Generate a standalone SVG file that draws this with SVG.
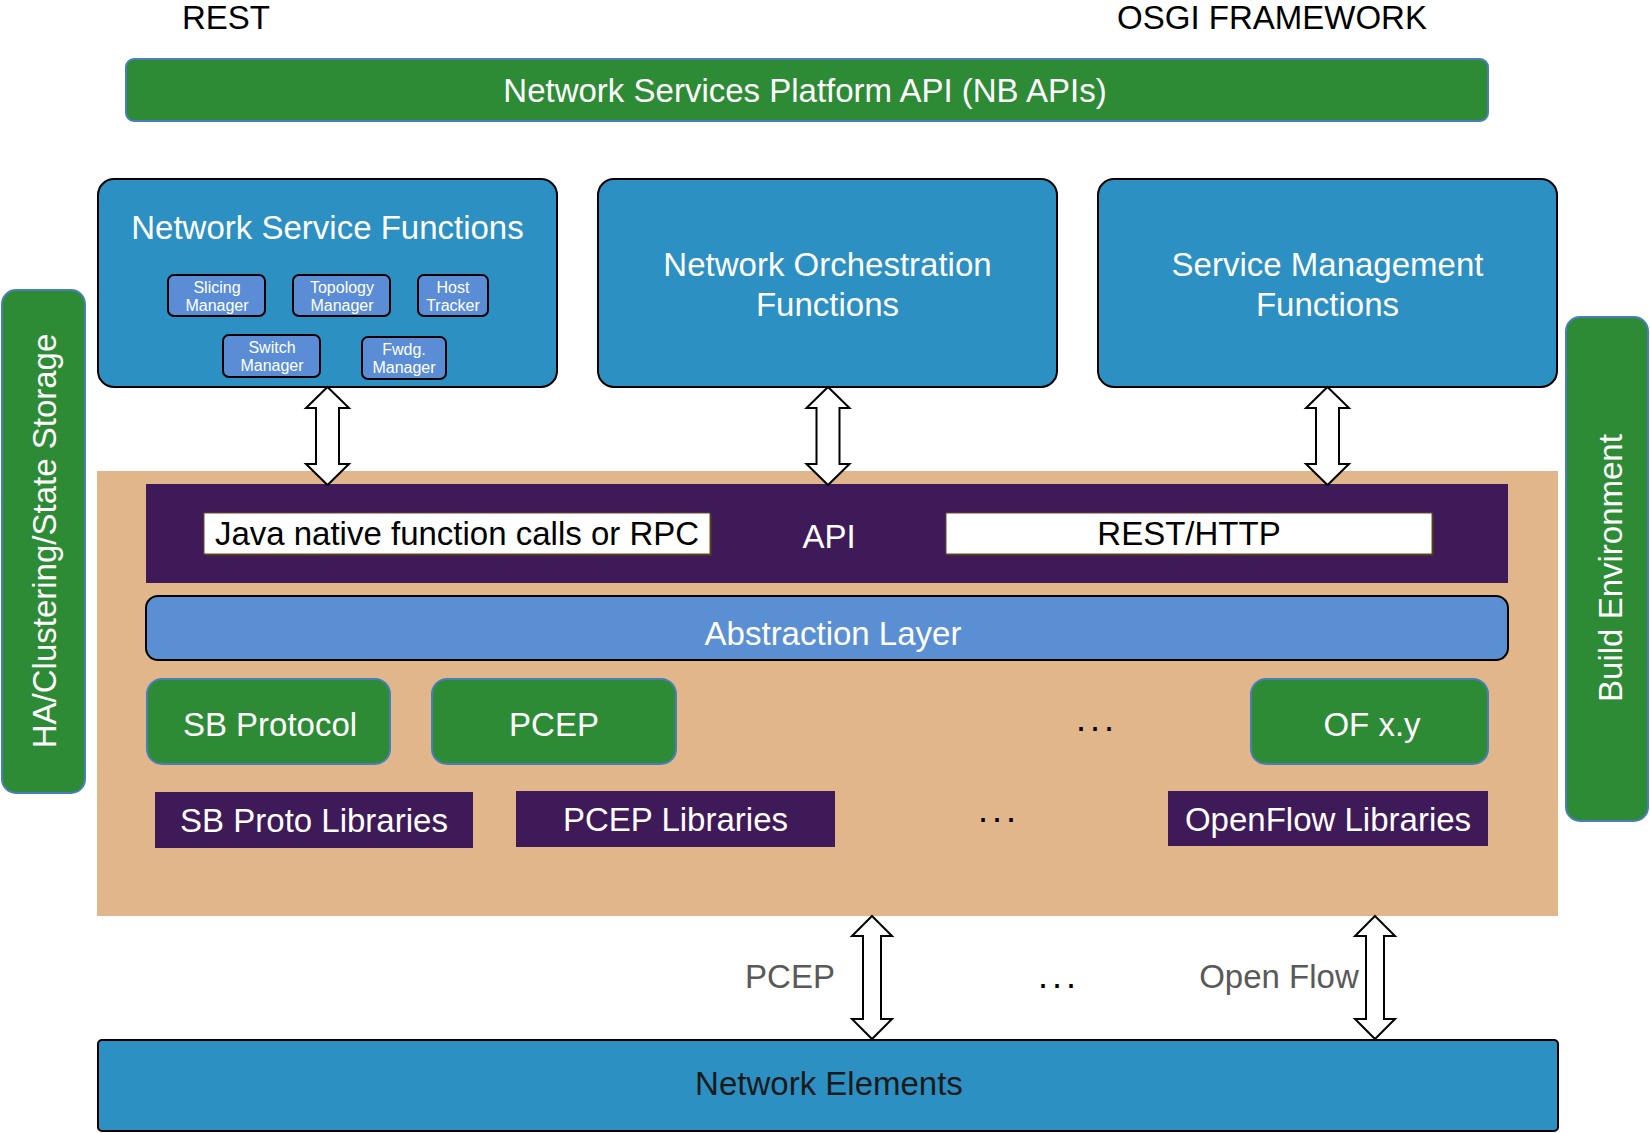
<svg xmlns="http://www.w3.org/2000/svg" xmlns:xlink="http://www.w3.org/1999/xlink" width="1650" height="1133" viewBox="0 0 1650 1133">
<style>
  text { font-family: "Liberation Sans", Arial, sans-serif; }
  .t33 { font-size: 33px; }
  .w { fill: #ffffff; }
  .k { fill: #000000; }
  .mid { text-anchor: middle; }
  .dots { font-size: 36px; letter-spacing: 4px; }
  .green { fill: #2E8B35; stroke: #4A7EBB; stroke-width: 2; }
  .blue { fill: #2C90C3; stroke: #000000; stroke-width: 2; }
  .sub { fill: #5A8DD6; stroke: #000000; stroke-width: 2; }
  .purple { fill: #3F1A58; }
  .wbox { fill: #ffffff; stroke: #6B4A2A; stroke-width: 1; }
  .shadow { fill: #4A3020; }
  .sublbl { font-size: 16px; fill: #ffffff; text-anchor: middle; }
  .arrow { fill: #ffffff; stroke: #000000; stroke-width: 2; stroke-linejoin: miter; }
  .gray { fill: #595959; }
</style>
<defs>
  <path id="darrowTop" d="M0,0 L21.5,21 L11.5,21 L11.5,77 L21.5,77 L0,98 L-21.5,77 L-11.5,77 L-11.5,21 L-21.5,21 Z"/>
  <path id="darrowBot" d="M0,0 L20,20 L9,20 L9,103 L20,103 L0,123 L-20,103 L-9,103 L-9,20 L-20,20 Z"/>
</defs>
<rect width="1650" height="1133" fill="#ffffff"/>

<g id="label-rest"><text class="t33 k mid" x="226" y="29">REST</text></g>
<g id="label-osgi"><text class="t33 k mid" x="1272" y="29">OSGI FRAMEWORK</text></g>

<g id="nb-api">
  <rect class="green" x="126" y="59" width="1362" height="62" rx="8"/>
  <text class="t33 w mid" x="805" y="102">Network Services Platform API (NB APIs)</text>
</g>

<g id="nsf">
  <rect class="blue" x="98" y="179" width="459" height="208" rx="16"/>
  <text class="t33 w mid" x="327.5" y="239">Network Service Functions</text>
</g>
<g id="slicing">
  <rect class="sub" x="168" y="275" width="97" height="41" rx="6"/>
  <text class="sublbl" x="217" y="293">Slicing</text>
  <text class="sublbl" x="217" y="311">Manager</text>
</g>
<g id="topology">
  <rect class="sub" x="293" y="275" width="97" height="41" rx="6"/>
  <text class="sublbl" x="342" y="293">Topology</text>
  <text class="sublbl" x="342" y="311">Manager</text>
</g>
<g id="host">
  <rect class="sub" x="418" y="275" width="70" height="41" rx="6"/>
  <text class="sublbl" x="453" y="293">Host</text>
  <text class="sublbl" x="453" y="311">Tracker</text>
</g>
<g id="switch">
  <rect class="sub" x="223" y="335" width="97" height="42" rx="6"/>
  <text class="sublbl" x="272" y="353">Switch</text>
  <text class="sublbl" x="272" y="371">Manager</text>
</g>
<g id="fwdg">
  <rect class="sub" x="362" y="337" width="84" height="42" rx="6"/>
  <text class="sublbl" x="404" y="355">Fwdg.</text>
  <text class="sublbl" x="404" y="373">Manager</text>
</g>

<g id="nof">
  <rect class="blue" x="598" y="179" width="459" height="208" rx="16"/>
  <text class="t33 w mid" x="827.5" y="276">Network Orchestration</text>
  <text class="t33 w mid" x="827.5" y="316">Functions</text>
</g>
<g id="smf">
  <rect class="blue" x="1098" y="179" width="459" height="208" rx="16"/>
  <text class="t33 w mid" x="1327.5" y="276">Service Management</text>
  <text class="t33 w mid" x="1327.5" y="316">Functions</text>
</g>

<g id="ha">
  <rect class="green" x="2" y="290" width="83" height="503" rx="14"/>
  <text class="t33 w mid" transform="translate(56,541) rotate(-90)">HA/Clustering/State Storage</text>
</g>
<g id="build">
  <rect class="green" x="1566" y="317" width="82" height="504" rx="14"/>
  <text class="t33 w mid" transform="translate(1622,568) rotate(-90)">Build Environment</text>
</g>

<g id="sal">
  <rect x="97" y="471" width="1461" height="445" fill="#E1B68B"/>
</g>

<g id="api-bar">
  <rect class="purple" x="146" y="484" width="1362" height="99"/>
  <rect class="shadow" x="206" y="515" width="506" height="41"/>
  <rect class="wbox" x="204" y="513" width="506" height="41"/>
  <text class="t33 k mid" x="457" y="545">Java native function calls or RPC</text>
  <text class="t33 w mid" x="829" y="548">API</text>
  <rect class="shadow" x="948" y="515" width="486" height="41"/>
  <rect class="wbox" x="946" y="513" width="486" height="41"/>
  <text class="t33 k mid" x="1189" y="545">REST/HTTP</text>
</g>

<g id="abstraction">
  <rect x="146" y="596" width="1362" height="64" rx="12" fill="#5B8FD3" stroke="#000000" stroke-width="2"/>
  <text class="t33 w mid" x="833" y="645">Abstraction Layer</text>
</g>

<g id="sb-protocol">
  <rect class="green" x="147" y="679" width="243" height="85" rx="15"/>
  <text class="t33 w mid" x="270" y="736">SB Protocol</text>
</g>
<g id="pcep">
  <rect class="green" x="432" y="679" width="244" height="85" rx="15"/>
  <text class="t33 w mid" x="554" y="736">PCEP</text>
</g>
<g id="dots-proto"><text class="dots k mid" x="1097" y="731">...</text></g>
<g id="ofxy">
  <rect class="green" x="1251" y="679" width="237" height="85" rx="15"/>
  <text class="t33 w mid" x="1372" y="736">OF x.y</text>
</g>

<g id="sb-libs">
  <rect class="purple" x="155" y="792" width="318" height="56"/>
  <text class="t33 w mid" x="314" y="832">SB Proto Libraries</text>
</g>
<g id="pcep-libs">
  <rect class="purple" x="516" y="791" width="319" height="56"/>
  <text class="t33 w mid" x="675.5" y="831">PCEP Libraries</text>
</g>
<g id="dots-libs"><text class="dots k mid" x="999" y="822">...</text></g>
<g id="of-libs">
  <rect class="purple" x="1168" y="791" width="320" height="55"/>
  <text class="t33 w mid" x="1328" y="831">OpenFlow Libraries</text>
</g>

<g id="network-elements">
  <rect class="blue" x="98" y="1040" width="1460" height="91" rx="4"/>
  <text class="t33 mid" x="829" y="1095" fill="#1a1a1a">Network Elements</text>
</g>

<g id="connectors">
  <use xlink:href="#darrowTop" class="arrow" x="327.5" y="387"/>
  <use xlink:href="#darrowTop" class="arrow" x="828" y="387"/>
  <use xlink:href="#darrowTop" class="arrow" x="1327.5" y="387"/>
  <use xlink:href="#darrowBot" class="arrow" x="872" y="916"/>
  <use xlink:href="#darrowBot" class="arrow" x="1375" y="916"/>
  <text class="t33 gray mid" x="790" y="988">PCEP</text>
  <text class="dots k mid" x="1059" y="988">...</text>
  <text class="t33 gray mid" x="1279" y="988">Open Flow</text>
</g>
</svg>
